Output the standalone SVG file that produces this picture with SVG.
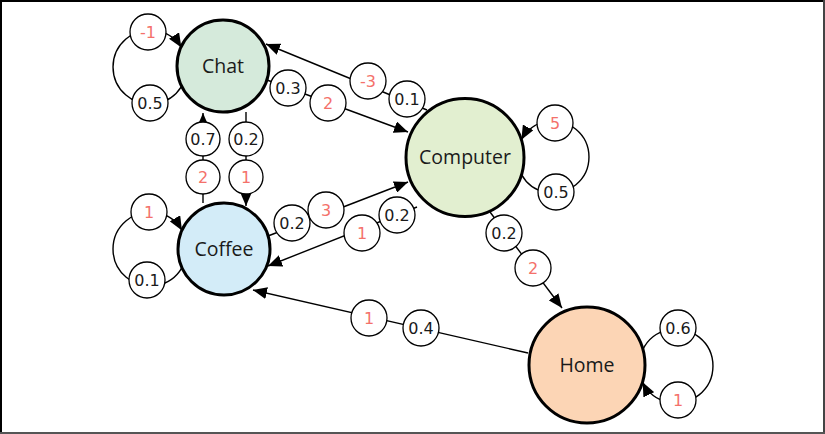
<svg xmlns="http://www.w3.org/2000/svg" width="825" height="434" viewBox="0 0 825 434">
<defs>
<marker id="arr" markerUnits="userSpaceOnUse" markerWidth="14" markerHeight="12" refX="14" refY="6" orient="auto">
<path d="M0,0 L14,6 L0,12 z" fill="#000"/>
</marker>
<style>
.node{stroke:#000;stroke-width:3}
.ntxt{font-family:"Open Sans","DejaVu Sans",sans-serif;font-size:19.5px;fill:#1a1a1a;text-anchor:middle}
.edge{fill:none;stroke:#000;stroke-width:1.4}
.lbl circle{fill:#fff;stroke:#000;stroke-width:1.3}
.lbl text{font-family:"DejaVu Sans","Liberation Sans",sans-serif;font-size:16px;text-anchor:middle}
.k{fill:#1a1a1a}
.r{fill:#f4716a}
</style>
</defs>
<rect x="0" y="0" width="825" height="434" fill="#fff"/>
<line x1="0" y1="1" x2="825" y2="1" stroke="#000" stroke-width="2"/>
<line x1="1" y1="0" x2="1" y2="434" stroke="#000" stroke-width="2"/>
<line x1="824" y1="0" x2="824" y2="434" stroke="#444" stroke-width="2"/>
<line x1="0" y1="433" x2="825" y2="433" stroke="#555" stroke-width="2"/>

<g id="connectors">
<path class="edge" d="M181.4,86.6 A37,37 0 1 1 181.4,47.4" marker-end="url(#arr)"/>
<path class="edge" d="M182,267.6 A37,37 0 1 1 182,230.4" marker-end="url(#arr)"/>
<path class="edge" d="M521.4,174.3 A36,36 0 1 0 521.4,139.7" marker-end="url(#arr)"/>
<path class="edge" d="M642.7,349.8 A37,37 0 1 1 642.7,382.2" marker-end="url(#arr)"/>
<path class="edge" d="M267,80 L408,132" marker-end="url(#arr)"/>
<path class="edge" d="M427,110 L266,44" marker-end="url(#arr)"/>
<path class="edge" d="M246,112 L246,206" marker-end="url(#arr)"/>
<path class="edge" d="M203,203 L203,113" marker-end="url(#arr)"/>
<path class="edge" d="M268,236 L408,182" marker-end="url(#arr)"/>
<path class="edge" d="M417,207 L268,266" marker-end="url(#arr)"/>
<path class="edge" d="M490,212 L562,308" marker-end="url(#arr)"/>
<path class="edge" d="M528,353 L253,290" marker-end="url(#arr)"/>
</g>

<g id="labels" class="lbl">
<circle cx="148" cy="32" r="18"/><text class="r" x="148" y="32" dy="0.36em">-1</text>
<circle cx="150" cy="103" r="18"/><text class="k" x="150" y="103" dy="0.36em">0.5</text>
<circle cx="149" cy="212" r="18"/><text class="r" x="149" y="212" dy="0.36em">1</text>
<circle cx="147" cy="280" r="18"/><text class="k" x="147" y="280" dy="0.36em">0.1</text>
<circle cx="555" cy="123" r="18"/><text class="r" x="555" y="123" dy="0.36em">5</text>
<circle cx="556" cy="192" r="18"/><text class="k" x="556" y="192" dy="0.36em">0.5</text>
<circle cx="678" cy="328" r="18"/><text class="k" x="678" y="328" dy="0.36em">0.6</text>
<circle cx="678" cy="400" r="18"/><text class="r" x="678" y="400" dy="0.36em">1</text>
<circle cx="288" cy="88" r="18"/><text class="k" x="288" y="88" dy="0.36em">0.3</text>
<circle cx="328" cy="103" r="18"/><text class="r" x="328" y="103" dy="0.36em">2</text>
<circle cx="368" cy="81" r="18"/><text class="r" x="368" y="81" dy="0.36em">-3</text>
<circle cx="407" cy="99" r="18"/><text class="k" x="407" y="99" dy="0.36em">0.1</text>
<circle cx="203" cy="139" r="17"/><text class="k" x="203" y="139" dy="0.36em">0.7</text>
<circle cx="203" cy="177" r="17"/><text class="r" x="203" y="177" dy="0.36em">2</text>
<circle cx="246" cy="139" r="17"/><text class="k" x="246" y="139" dy="0.36em">0.2</text>
<circle cx="246" cy="177" r="17"/><text class="r" x="246" y="177" dy="0.36em">1</text>
<circle cx="292" cy="223" r="18"/><text class="k" x="292" y="223" dy="0.36em">0.2</text>
<circle cx="326" cy="210" r="18"/><text class="r" x="326" y="210" dy="0.36em">3</text>
<circle cx="397" cy="215" r="18"/><text class="k" x="397" y="215" dy="0.36em">0.2</text>
<circle cx="362" cy="233" r="18"/><text class="r" x="362" y="233" dy="0.36em">1</text>
<circle cx="504" cy="233" r="18"/><text class="k" x="504" y="233" dy="0.36em">0.2</text>
<circle cx="533" cy="268" r="18"/><text class="r" x="533" y="268" dy="0.36em">2</text>
<circle cx="421" cy="328" r="18"/><text class="k" x="421" y="328" dy="0.36em">0.4</text>
<circle cx="369" cy="318" r="18"/><text class="r" x="369" y="318" dy="0.36em">1</text>
</g>

<g id="node-chat">
<circle class="node" cx="223" cy="66" r="46" fill="#d5eadb"/>
<text class="ntxt" x="223" y="73">Chat</text>
</g>
<g id="node-coffee">
<circle class="node" cx="224" cy="249" r="46" fill="#d3ecf8"/>
<text class="ntxt" x="224" y="256">Coffee</text>
</g>
<g id="node-computer">
<circle class="node" cx="465" cy="157.5" r="59" fill="#e2efd0"/>
<text class="ntxt" x="465" y="164">Computer</text>
</g>
<g id="node-home">
<circle class="node" cx="587" cy="365" r="58" fill="#fcd5b5"/>
<text class="ntxt" x="587" y="372">Home</text>
</g>
</svg>
